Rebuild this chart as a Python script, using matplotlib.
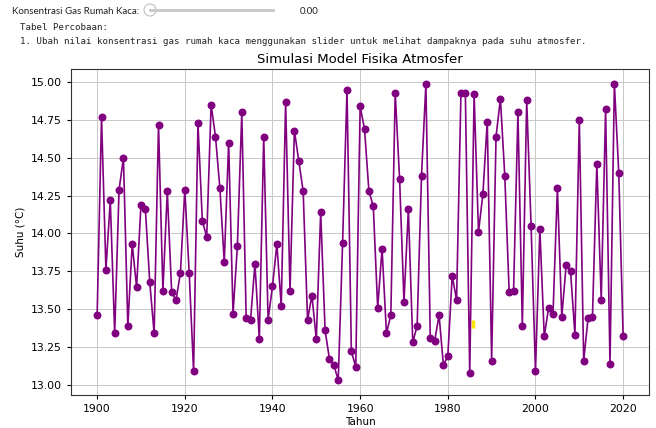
import matplotlib
matplotlib.use('Agg')
import matplotlib.pyplot as plt
from matplotlib.lines import Line2D
from matplotlib.patches import Ellipse

# data
tahun = list(range(1900, 2021))
suhu = [
    13.46, 14.77, 13.76, 14.22, 13.34, 14.29, 14.50, 13.39, 13.93, 13.645,
    14.19, 14.16, 13.68, 13.34, 14.72, 13.62, 14.28, 13.61, 13.56, 13.74,
    14.29, 13.74, 13.09, 14.73, 14.08, 13.98, 14.85, 14.64, 14.30, 13.81,
    14.60, 13.47, 13.92, 14.80, 13.44, 13.43, 13.80, 13.30, 14.64, 13.43,
    13.65, 13.93, 13.52, 14.87, 13.62, 14.68, 14.48, 14.28, 13.43, 13.59,
    13.30, 14.14, 13.36, 13.17, 13.13, 13.03, 13.94, 14.95, 13.22, 13.12,
    14.84, 14.69, 14.28, 14.18, 13.51, 13.90, 13.34, 13.46, 14.93, 14.36,
    13.55, 14.16, 13.28, 13.39, 14.38, 14.99, 13.31, 13.29, 13.46, 13.13,
    13.19, 13.72, 13.56, 14.93, 14.93, 13.08, 14.92, 14.01, 14.26, 14.74,
    13.16, 14.64, 14.89, 14.38, 13.61, 13.62, 14.80, 13.39, 14.88, 14.05,
    13.09, 14.03, 13.32, 13.51, 13.47, 14.30, 13.45, 13.79, 13.75, 13.33,
    14.75, 13.16, 13.44, 13.45, 14.46, 13.56, 14.82, 13.14, 14.99, 14.40,
    13.32,
]
# small yellow mark seen inside the plot
titik_x = [1985.8]
titik_y = [13.40]

nilai_slider = 0.00

fig = plt.figure(figsize=(6.56, 4.28), dpi=100)
ax = fig.add_axes([0.108, 0.077, 0.882, 0.762])

ax.plot(tahun, suhu, marker='o', color='purple', linewidth=1.2, markersize=4.7)
ax.plot(titik_x, titik_y, linestyle='none', marker='|', color='#ffe600',
        markersize=6, markeredgewidth=2.5)

ax.set_title("Simulasi Model Fisika Atmosfer", fontsize=9.5, pad=4)
ax.set_xlabel("Tahun", fontsize=7.5, labelpad=2)
ax.set_ylabel("Suhu (°C)", fontsize=7.5, labelpad=4)
ax.tick_params(labelsize=7.8, length=3)
ax.grid(True, color='#c8c8c8', linewidth=0.7)
ax.set_axisbelow(True)
for s in ax.spines.values():
    s.set_color('#333333')
    s.set_linewidth(0.8)

# slider-like widget at the top
fig.text(12/656, 1 - 11/428, "Konsentrasi Gas Rumah Kaca:", family='Lato',
         fontsize=7, va='center', color='#222222')
fig.add_artist(Line2D([150/656, 273/656], [1 - 10/428, 1 - 10/428],
                      color='#c8c8c8', linewidth=2, transform=fig.transFigure))
fig.add_artist(Ellipse((150/656, 1 - 10/428), 12/656, 12/428,
                       facecolor='white', edgecolor='#c0c0c0', linewidth=0.8,
                       transform=fig.transFigure))
fig.text(300/656, 1 - 11/428, "%.2f" % nilai_slider, family='Lato',
         fontsize=7, va='center', color='#222222')

fig.text(20/656, 1 - 28/428, "Tabel Percobaan:", family='DejaVu Sans Mono',
         fontsize=6.6, va='center', color='#222222')
fig.text(20/656, 1 - 41/428,
         "1. Ubah nilai konsentrasi gas rumah kaca menggunakan slider untuk melihat dampaknya pada suhu atmosfer.",
         family='DejaVu Sans Mono', fontsize=6.6, va='center', color='#222222')

fig.savefig('out.png', dpi=100)
